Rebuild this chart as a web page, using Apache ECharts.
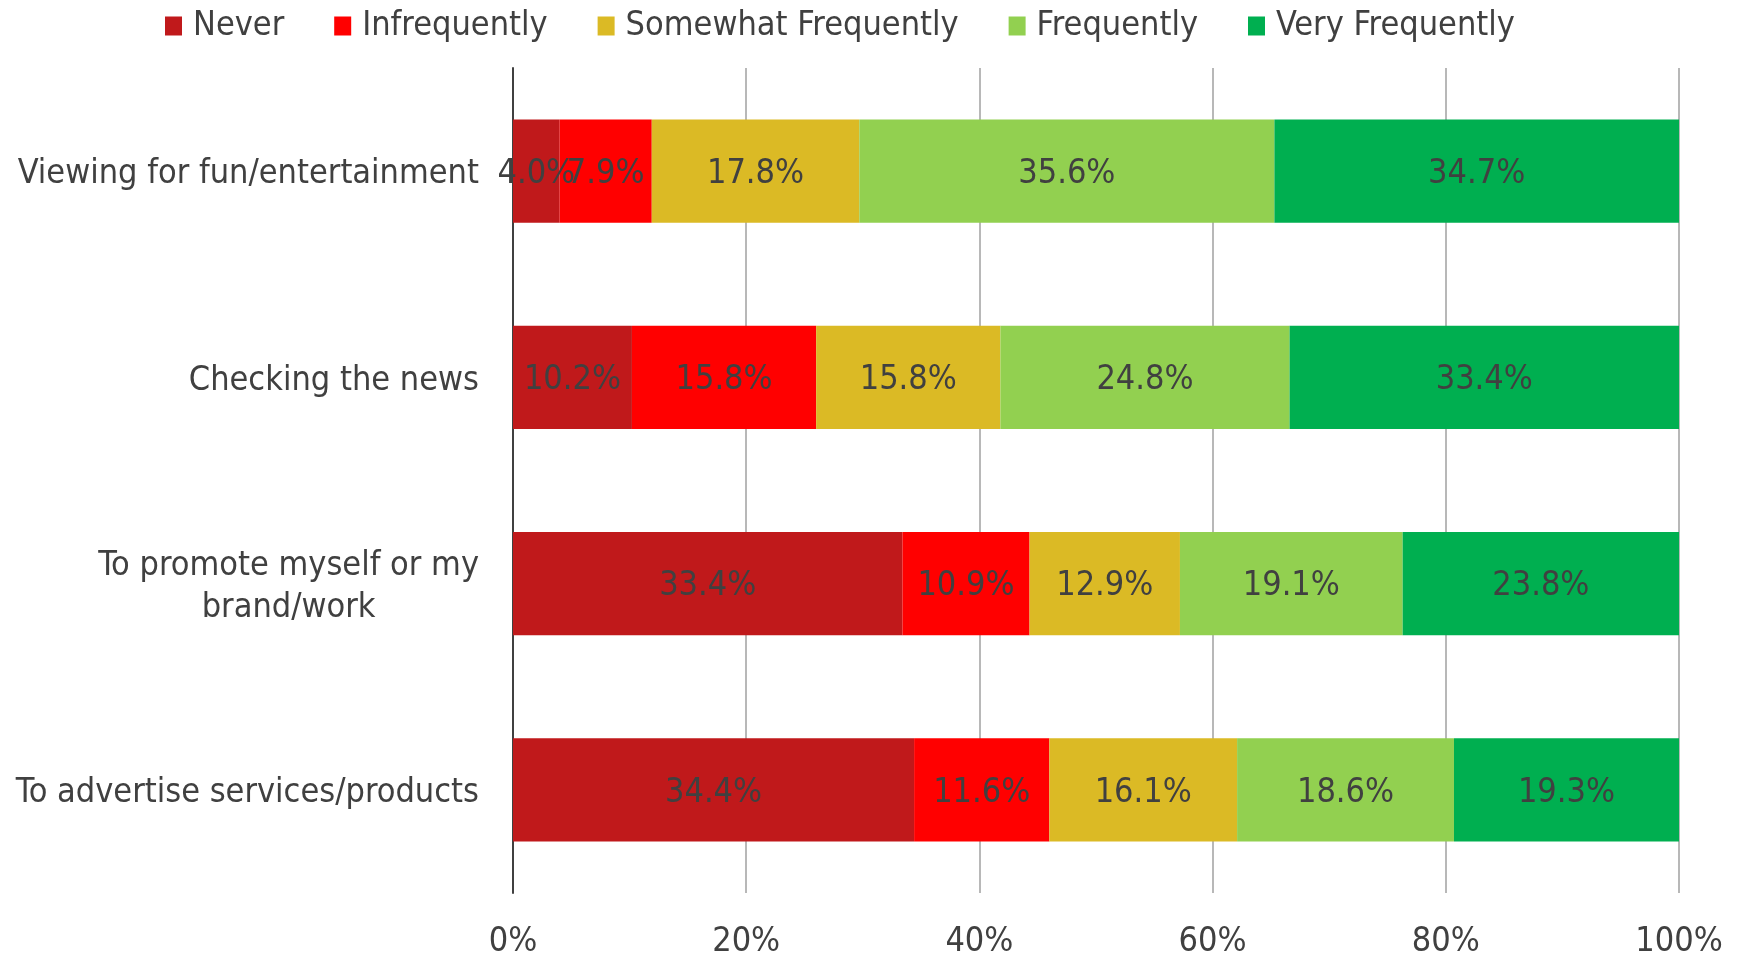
<!DOCTYPE html>
<html>
<head>
<meta charset="utf-8">
<script src="https://cdn.jsdelivr.net/npm/echarts@6/dist/echarts.min.js"></script>
<style>
  html, body { margin: 0; padding: 0; background: #fff; }
  #chart { width: 1744px; height: 959px; }
</style>
</head>
<body>
<div id="chart"></div>
<script>
var categories = [
  'Viewing for fun/entertainment',
  'Checking the news',
  'To promote myself or my\nbrand/work',
  'To advertise services/products'
];
var seriesNames = ['Never', 'Infrequently', 'Somewhat Frequently', 'Frequently', 'Very Frequently'];
var seriesColors = ['#C0191B', '#FF0000', '#DBBA25', '#92D050', '#00AF50'];
var never = [4.0, 10.2, 33.4, 34.4];
var infrequently = [7.9, 15.8, 10.9, 11.6];
var somewhat = [17.8, 15.8, 12.9, 16.1];
var frequently = [35.6, 24.8, 19.1, 18.6];
var veryFrequently = [34.7, 33.4, 23.8, 19.3];
var xTicks = [0, 20, 40, 60, 80, 100];

var FONT = '"DejaVu Sans Condensed", "Liberation Sans", sans-serif';
var TEXT = '#404040';
var FS = 34;

var allValues = [never, infrequently, somewhat, frequently, veryFrequently];

var chart = echarts.init(document.getElementById('chart'));
chart.setOption({
  animation: false,
  textStyle: { fontFamily: FONT },
  legend: {
    top: 4,
    left: 160,
    itemWidth: 17,
    itemHeight: 19,
    itemGap: 50,
    icon: 'rect',
    textStyle: { fontSize: FS, color: TEXT, fontFamily: FONT, padding: [0, 0, 0, 6] },
    data: seriesNames
  },
  grid: {
    left: 513,
    right: 65,
    top: 68,
    bottom: 60
  },
  xAxis: {
    type: 'value',
    min: xTicks[0],
    max: xTicks[xTicks.length - 1],
    interval: 20,
    axisLine: { show: false },
    axisTick: { show: false },
    splitLine: { show: true, lineStyle: { color: '#a0a0a0', width: 1.5 } },
    axisLabel: {
      margin: 32,
      fontSize: FS,
      color: TEXT,
      fontFamily: FONT,
      formatter: function (v) { return v + '%'; }
    }
  },
  yAxis: {
    type: 'category',
    inverse: true,
    data: categories,
    axisLine: { show: true, lineStyle: { color: '#404040', width: 2 } },
    axisTick: { show: false },
    axisLabel: {
      margin: 34,
      color: TEXT,
      fontSize: FS,
      fontFamily: FONT,
      lineHeight: 42,
      padding: [7, 0, 0, 0],
      formatter: function (v) {
        return v.split('\n').map(function (s) { return '{c|' + s + '}'; }).join('\n');
      },
      rich: {
        c: { align: 'center', fontSize: FS, fontFamily: FONT, color: TEXT, lineHeight: 42 }
      }
    }
  },
  series: seriesNames.map(function (name, i) {
    return {
      name: name,
      type: 'bar',
      stack: 'total',
      barWidth: '50%',
      data: allValues[i],
      itemStyle: { color: seriesColors[i] },
      label: {
        show: true,
        position: 'inside',
        offset: [0, 3],
        color: TEXT,
        fontSize: FS,
        fontFamily: FONT,
        formatter: function (p) { return p.value.toFixed(1) + '%'; }
      }
    };
  })
});
</script>
</body>
</html>
